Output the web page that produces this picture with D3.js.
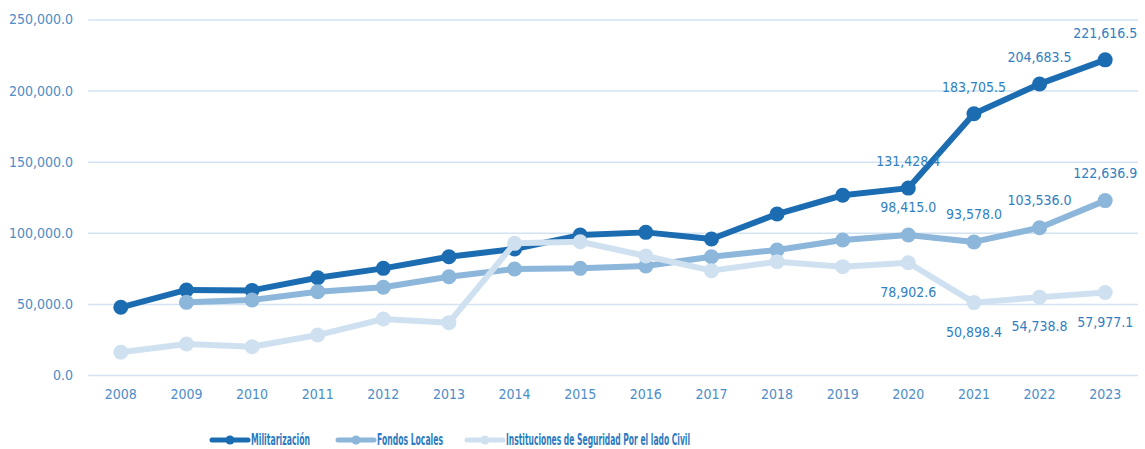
<!DOCTYPE html>
<html>
<head>
<meta charset="utf-8">
<script src="https://cdn.jsdelivr.net/npm/d3@7"></script>
<style>
  body { margin: 0; background: #fff; }
  svg text { font-family: "Liberation Sans Narrow", "DejaVu Sans Condensed", "Liberation Sans", sans-serif; }
</style>
</head>
<body>
<div id="chart"></div>
<script>
const width = 1145, height = 449;

const years = ["2008","2009","2010","2011","2012","2013","2014","2015","2016","2017","2018","2019","2020","2021","2022","2023"];
const militarizacion = [47600, 59800, 59500, 68400, 75000, 83200, 88600, 98400, 100300, 95600, 113200, 126400, 131428.4, 183705.5, 204683.5, 221616.5];
const fondosLocales = [null, 51100, 52700, 58600, 61700, 69100, 74500, 75000, 76700, 83200, 87900, 94900, 98415.0, 93578.0, 103536.0, 122636.9];
const instituciones = [16000, 21800, 19900, 28100, 39400, 36800, 92600, 93700, 83700, 73400, 79700, 76200, 78902.6, 50898.4, 54738.8, 57977.1];
const yTicks = [0, 50000, 100000, 150000, 200000, 250000];
const seriesNames = ["Militarización", "Fondos Locales", "Instituciones de Seguridad Por el lado Civil"];

// which years get a value label
const labelYearsMil = ["2020","2021","2022","2023"];
const labelYearsFon = ["2020","2021","2022","2023"];
const labelYearsIns = ["2020","2021","2022","2023"];

const colors = ["#1c6cb1", "#8cb6da", "#cfe1f0"];
const tickColor = "#4d8dc8";
const labelColor = "#3080c2";

const plotLeft = 88, plotRight = 1138, plotTop = 19.5, plotBottom = 375;

const svg = d3.select("#chart").append("svg")
    .attr("width", width)
    .attr("height", height);

const x = d3.scaleBand().domain(years).range([plotLeft, plotRight]);
const y = d3.scaleLinear().domain([0, 250000]).range([plotBottom, plotTop]);
const cx = d => x(d) + x.bandwidth() / 2;

// gridlines
svg.append("g")
    .attr("transform", `translate(${plotLeft},0)`)
    .call(d3.axisLeft(y).tickValues(yTicks).tickSize(-(plotRight - plotLeft)).tickFormat(""))
    .call(g => g.select(".domain").remove())
    .call(g => g.selectAll(".tick line").attr("stroke", "#d3e3f2").attr("stroke-width", 1.5));

// y labels
svg.append("g")
    .attr("transform", `translate(${plotLeft - 15},0)`)
    .call(d3.axisLeft(y).tickValues(yTicks).tickSize(0).tickPadding(0).tickFormat(d3.format(",.1f")))
    .call(g => g.select(".domain").remove())
    .call(g => g.selectAll(".tick text").attr("fill", tickColor).style("font-size", "14px"));

// x labels
svg.append("g")
    .attr("transform", `translate(0,${plotBottom})`)
    .call(d3.axisBottom(x).tickSize(0).tickPadding(14))
    .call(g => g.select(".domain").remove())
    .call(g => g.selectAll(".tick text").attr("fill", tickColor).style("font-size", "14px"));

const allSeries = [militarizacion, fondosLocales, instituciones];

const line = d3.line()
    .defined(d => d.v != null)
    .x(d => cx(d.year))
    .y(d => y(d.v));

allSeries.forEach((vals, i) => {
    const pts = years.map((yr, j) => ({ year: yr, v: vals[j] }));
    const g = svg.append("g");
    g.append("path")
        .datum(pts)
        .attr("d", line)
        .attr("fill", "none")
        .attr("stroke", colors[i])
        .attr("stroke-width", 6)
        .attr("stroke-linejoin", "round");
    g.selectAll("circle")
        .data(pts.filter(d => d.v != null))
        .enter().append("circle")
        .attr("cx", d => cx(d.year))
        .attr("cy", d => y(d.v))
        .attr("r", 7.5)
        .attr("fill", colors[i]);
});

// data labels
const fmt = d3.format(",.1f");
function addLabels(vals, labelYears, dy) {
    svg.append("g").selectAll("text")
        .data(labelYears)
        .enter().append("text")
        .attr("x", d => cx(d))
        .attr("y", d => y(vals[years.indexOf(d)]) + dy)
        .attr("text-anchor", "middle")
        .attr("fill", labelColor)
        .style("font-size", "14px")
        .text(d => fmt(vals[years.indexOf(d)]));
}
addLabels(militarizacion, labelYearsMil, -22);
addLabels(fondosLocales, labelYearsFon, -23);
addLabels(instituciones, labelYearsIns, 34);

// legend (the reference font is a narrow one, so squeeze the text)
const legendX = [212, 338, 467];
const legendTextW = [59, 66, 184];
const legendY = 440;
const legend = svg.append("g");
seriesNames.forEach((name, i) => {
    const g = legend.append("g").attr("transform", `translate(${legendX[i]},${legendY})`);
    g.append("line")
        .attr("x1", 0).attr("x2", 36)
        .attr("stroke", colors[i])
        .attr("stroke-width", 5)
        .attr("stroke-linecap", "round");
    g.append("circle")
        .attr("cx", 18).attr("r", 4.5)
        .attr("fill", colors[i]);
    g.append("text")
        .attr("x", 39)
        .attr("dy", "0.35em")
        .attr("fill", "#2d7ac0")
        .attr("textLength", legendTextW[i])
        .attr("lengthAdjust", "spacingAndGlyphs")
        .style("font-size", "15.5px")
        .style("font-weight", "bold")
        .text(name);
});
</script>
</body>
</html>
